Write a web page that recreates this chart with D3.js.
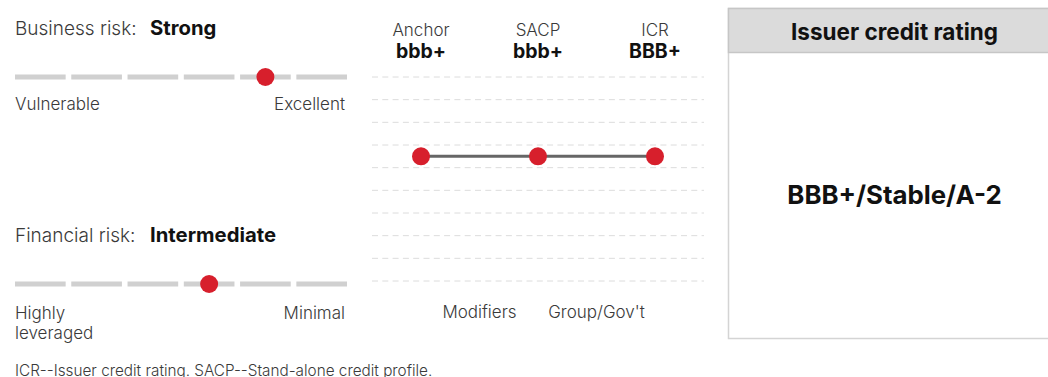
<!DOCTYPE html>
<html>
<head>
<meta charset="utf-8">
<script src="https://cdn.jsdelivr.net/npm/d3@7"></script>
<style>
  html, body { margin: 0; padding: 0; background: #fff; }
  svg { display: block; font-family: Inter, "Noto Sans", sans-serif; }
</style>
</head>
<body>
<svg id="chart" width="1048" height="377"></svg>
<script>
// ---- data ----
const scaleSteps = [1, 2, 3, 4, 5, 6];
const businessRisk = { label: "Business risk:", value: "Strong", position: 5, low: "Vulnerable", high: "Excellent" };
const financialRisk = { label: "Financial risk:", value: "Intermediate", position: 4, low: ["Highly", "leveraged"], high: "Minimal" };
const stepColumns = ["Anchor", "Modifiers", "SACP", "Group/Gov't", "ICR"];
const ratingColumns = ["Anchor", "SACP", "ICR"];
const ratingValues = ["bbb+", "bbb+", "BBB+"];
const notches = ["a+", "a", "a-", "bbb+", "bbb", "bbb-", "bb+", "bb", "bb-"];
const pointNotches = ["bbb+", "bbb+", "bbb+"];
const modifierLabels = ["Modifiers", "Group/Gov't"];
const boxTitle = "Issuer credit rating";
const boxRating = "BBB+/Stable/A-2";
const footnote = "ICR--Issuer credit rating. SACP--Stand-alone credit profile.";

const RED = "#d71f2c";
const TXT = "#3a3a3a";
const svg = d3.select("#chart");

// ---- risk scales ----
const xRisk = d3.scaleBand().domain(scaleSteps).range([15, 347]).paddingInner(0.1).paddingOuter(0);

function riskBlock(cfg, titleY, barY, labelY) {
  const g = svg.append("g");
  g.append("text").attr("x", 15).attr("y", titleY).attr("font-size", 19).attr("font-weight", 300).attr("fill", TXT).text(cfg.label);
  g.append("text").attr("x", 150).attr("y", titleY).attr("font-size", 20.3).attr("font-weight", 700).attr("fill", "#111").text(cfg.value);
  g.selectAll("rect.seg").data(scaleSteps).join("rect")
    .attr("class", "seg")
    .attr("x", d => xRisk(d)).attr("y", barY - 2.5)
    .attr("width", xRisk.bandwidth()).attr("height", 5)
    .attr("fill", "#d0d0d0");
  g.append("circle").attr("cx", xRisk(cfg.position) + xRisk.bandwidth() / 2).attr("cy", barY).attr("r", 9).attr("fill", RED);
  const low = Array.isArray(cfg.low) ? cfg.low : [cfg.low];
  low.forEach((t, i) => {
    g.append("text").attr("x", 15).attr("y", labelY + i * 20).attr("font-size", 17).attr("font-weight", 300).attr("fill", TXT).text(t);
  });
  g.append("text").attr("x", 345).attr("y", labelY).attr("text-anchor", "end").attr("font-size", 17).attr("font-weight", 300).attr("fill", TXT).text(cfg.high);
}
riskBlock(businessRisk, 35, 77, 110);
riskBlock(financialRisk, 242, 284, 319);

// ---- middle panel ----
const xCol = d3.scalePoint().domain(stepColumns).range([421, 655]);
const yNotch = d3.scaleBand().domain(notches).range([77, 281]);

const gridYs = notches.map(n => yNotch(n)).concat([yNotch(notches[notches.length - 1]) + yNotch.bandwidth()]);
svg.append("g").selectAll("line").data(gridYs).join("line")
  .attr("x1", 372).attr("x2", 704)
  .attr("y1", d => d).attr("y2", d => d)
  .attr("stroke", "#dcdcdc").attr("stroke-width", 1)
  .attr("stroke-dasharray", "6,4.3");

ratingColumns.forEach((c, i) => {
  svg.append("text").attr("x", xCol(c)).attr("y", 36).attr("text-anchor", "middle")
    .attr("font-size", 17).attr("font-weight", 300).attr("fill", TXT).text(c);
  svg.append("text").attr("x", xCol(c)).attr("y", 58).attr("text-anchor", "middle")
    .attr("font-size", 19.5).attr("font-weight", 700).attr("fill", "#111").text(ratingValues[i]);
});

const pts = ratingColumns.map((c, i) => [xCol(c), yNotch(pointNotches[i]) + yNotch.bandwidth() / 2]);
svg.append("path").attr("d", d3.line()(pts)).attr("stroke", "#666").attr("stroke-width", 3).attr("fill", "none");
svg.append("g").selectAll("circle").data(pts).join("circle")
  .attr("cx", d => d[0]).attr("cy", d => d[1]).attr("r", 9).attr("fill", RED);

modifierLabels.forEach(m => {
  svg.append("text").attr("x", xCol(m)).attr("y", 318).attr("text-anchor", "middle")
    .attr("font-size", 17).attr("font-weight", 300).attr("fill", TXT).text(m);
});

// ---- right box ----
const bx = 728.5, by = 8.5, bw = 332, bh = 330;
svg.append("rect").attr("x", bx).attr("y", by).attr("width", bw).attr("height", bh)
  .attr("fill", "#fff").attr("stroke", "#d4d4d4").attr("stroke-width", 1.5);
svg.append("rect").attr("x", bx).attr("y", by).attr("width", bw).attr("height", 44)
  .attr("fill", "#dbdbdb").attr("stroke", "#c6c6c6").attr("stroke-width", 1.5);
svg.append("text").attr("x", 894.5).attr("y", 40).attr("text-anchor", "middle")
  .attr("font-size", 22.5).attr("font-weight", 700).attr("fill", "#111").text(boxTitle);
svg.append("text").attr("x", 894.5).attr("y", 204).attr("text-anchor", "middle")
  .attr("font-size", 25.8).attr("font-weight", 700).attr("fill", "#111").text(boxRating);

// ---- footnote ----
svg.append("text").attr("x", 15).attr("y", 375.5).attr("font-size", 15.3).attr("font-weight", 300).attr("fill", TXT).text(footnote);
</script>
</body>
</html>
